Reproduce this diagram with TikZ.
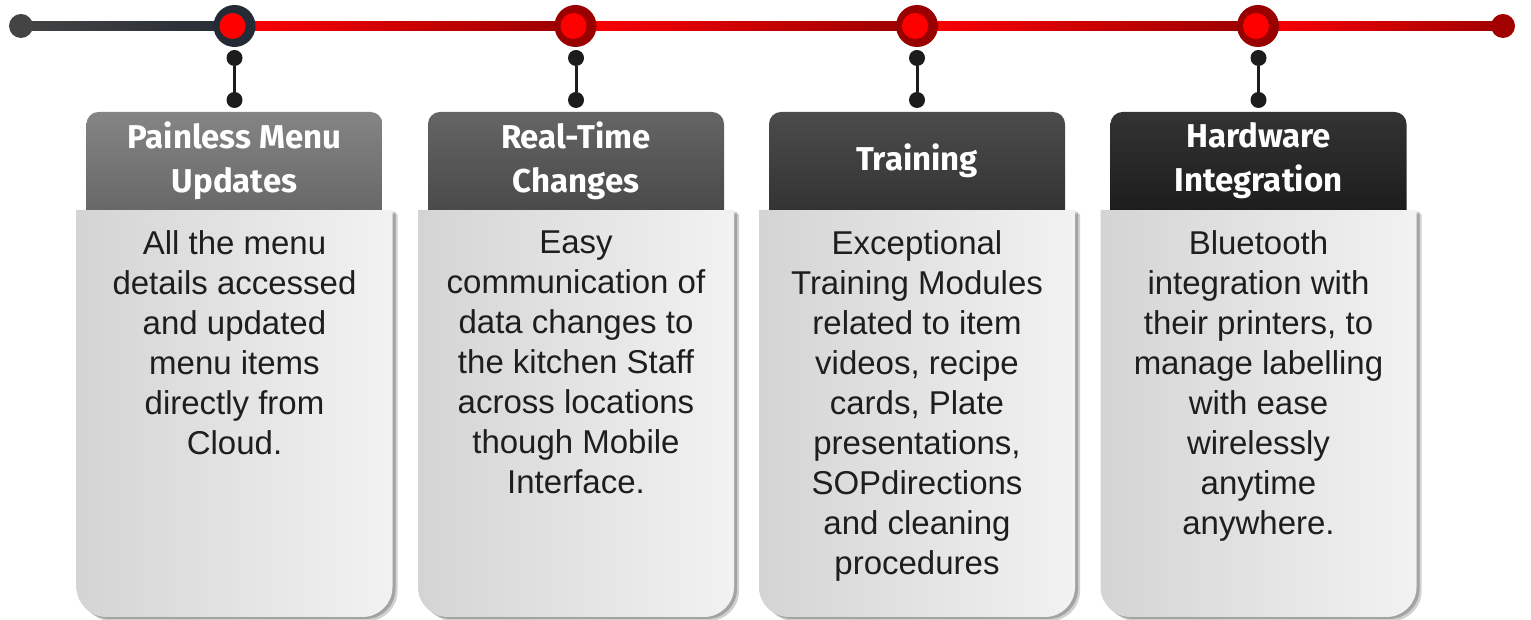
\documentclass[tikz,border=0pt]{standalone}
\usepackage{fontspec}
\setmainfont{Liberation Sans}
\newfontfamily\hfont{Fira Sans}
\usetikzlibrary{calc}
\definecolor{lineDark}{HTML}{444444}
\definecolor{navyRing}{HTML}{252B36}
\definecolor{redRing}{HTML}{990000}
\definecolor{redEnd}{HTML}{A00000}
\definecolor{brightRed}{HTML}{FF0000}
\definecolor{conDark}{HTML}{1C1C1C}
\definecolor{hA}{HTML}{7A7A7A}
\definecolor{hB}{HTML}{575757}
\definecolor{hC}{HTML}{3C3C3C}
\definecolor{hD}{HTML}{222222}
\definecolor{bodyL}{HTML}{D4D4D4}
\definecolor{bodyR}{HTML}{F2F2F2}
\definecolor{txtDark}{HTML}{1E1E1E}
\tikzset{
  bigring/.style={circle, minimum size=42pt, inner sep=0pt},
  redcore/.style={circle, fill=brightRed, minimum size=26pt, inner sep=0pt},
  enddot/.style={circle, minimum size=24pt, inner sep=0pt},
  cdot/.style={circle, fill=conDark, minimum size=16pt, inner sep=0pt},
  conline/.style={line width=3pt, draw=conDark},
  headtxt/.style={text=white, align=center, inner sep=0pt, font=\hfont\bfseries\fontsize{33}{44}\selectfont},
  bodytxt/.style={text=txtDark, align=center, inner sep=0pt, font=\fontsize{33}{40}\selectfont},
}
\newcommand{\featbox}[5]{%
\begin{scope}[xshift=#2pt]
  \begin{scope}[shift={(5,-4)}]
    \fill[black, opacity=0.18] (-158,410) -- (-158,33) arc[start angle=180,end angle=270,radius=30] -- (128,3) arc[start angle=270,end angle=360,radius=30] -- (158,410) -- cycle;
  \end{scope}
  \begin{scope}[shift={(3,-2)}]
    \fill[black, opacity=0.22] (-158,410) -- (-158,33) arc[start angle=180,end angle=270,radius=30] -- (128,3) arc[start angle=270,end angle=360,radius=30] -- (158,410) -- cycle;
  \end{scope}
  \shade[left color=bodyL, right color=bodyR] (-158,410) -- (-158,33) arc[start angle=180,end angle=270,radius=30] -- (128,3) arc[start angle=270,end angle=360,radius=30] -- (158,410) -- cycle;
  \shade[top color=#3!92!white, bottom color=#3!85!black] (-148,410) -- (-148,496) arc[start angle=180,end angle=90,radius=12] -- (136,508) arc[start angle=90,end angle=0,radius=12] -- (148,410) -- cycle;
  \node[headtxt] (t#1) at (0,459) {#4};
  \node[bodytxt, anchor=north] (b#1) at (0,389.5) {#5};
  \node[cdot] (u#1) at (0,562) {};
  \node[cdot] (d#1) at (0,520) {};
  \draw[conline] (u#1) -- (d#1);
\end{scope}}
\begin{document}
\begin{tikzpicture}[x=1pt,y=1pt]
\useasboundingbox (0,0) rectangle (1531,620);
% timeline nodes
\coordinate (s) at (21,594);
\coordinate (c1) at (234.5,594);
\coordinate (c2) at (575.5,594);
\coordinate (c3) at (917,594);
\coordinate (c4) at (1258,594);
\coordinate (e) at (1503,594);
\shade[left color=lineDark, right color=navyRing] ($(s)+(0,-4.5)$) rectangle ($(c1)+(0,4.5)$);
\shade[left color=brightRed, right color=redRing] ($(c1)+(0,-4.5)$) rectangle ($(c2)+(0,4.5)$);
\shade[left color=brightRed, right color=redRing] ($(c2)+(0,-4.5)$) rectangle ($(c3)+(0,4.5)$);
\shade[left color=brightRed, right color=redRing] ($(c3)+(0,-4.5)$) rectangle ($(c4)+(0,4.5)$);
\shade[left color=brightRed, right color=redEnd] ($(c4)+(0,-4.5)$) rectangle ($(e)+(0,4.5)$);
\node[enddot, fill=lineDark] (sd) at (s) {};
\node[enddot, fill=redEnd] (ed) at (e) {};
\node[bigring, fill=navyRing] (r1) at (c1) {};
\node[bigring, fill=redRing] (r2) at (c2) {};
\node[bigring, fill=redRing] (r3) at (c3) {};
\node[bigring, fill=redRing] (r4) at (c4) {};
\node[redcore] (k1) at ($(c1)+(-2,0)$) {};
\node[redcore] (k2) at ($(c2)+(-2,0)$) {};
\node[redcore] (k3) at ($(c3)+(-2,0)$) {};
\node[redcore] (k4) at ($(c4)+(-2,0)$) {};
\featbox{1}{234.5}{hA}{Painless Menu\\Updates}{All the menu\\details accessed\\and updated\\menu items\\directly from\\Cloud.}
\featbox{2}{576}{hB}{Real-Time\\Changes}{Easy\\communication of\\data changes to\\the kitchen Staff\\across locations\\though Mobile\\Interface.}
\featbox{3}{917}{hC}{Training}{Exceptional\\Training Modules\\related to item\\videos, recipe\\cards, Plate\\presentations,\\SOPdirections\\and cleaning\\procedures}
\featbox{4}{1258.5}{hD}{Hardware\\Integration}{Bluetooth\\integration with\\their printers, to\\manage labelling\\with ease\\wirelessly\\anytime\\anywhere.}
\end{tikzpicture}
\end{document}
